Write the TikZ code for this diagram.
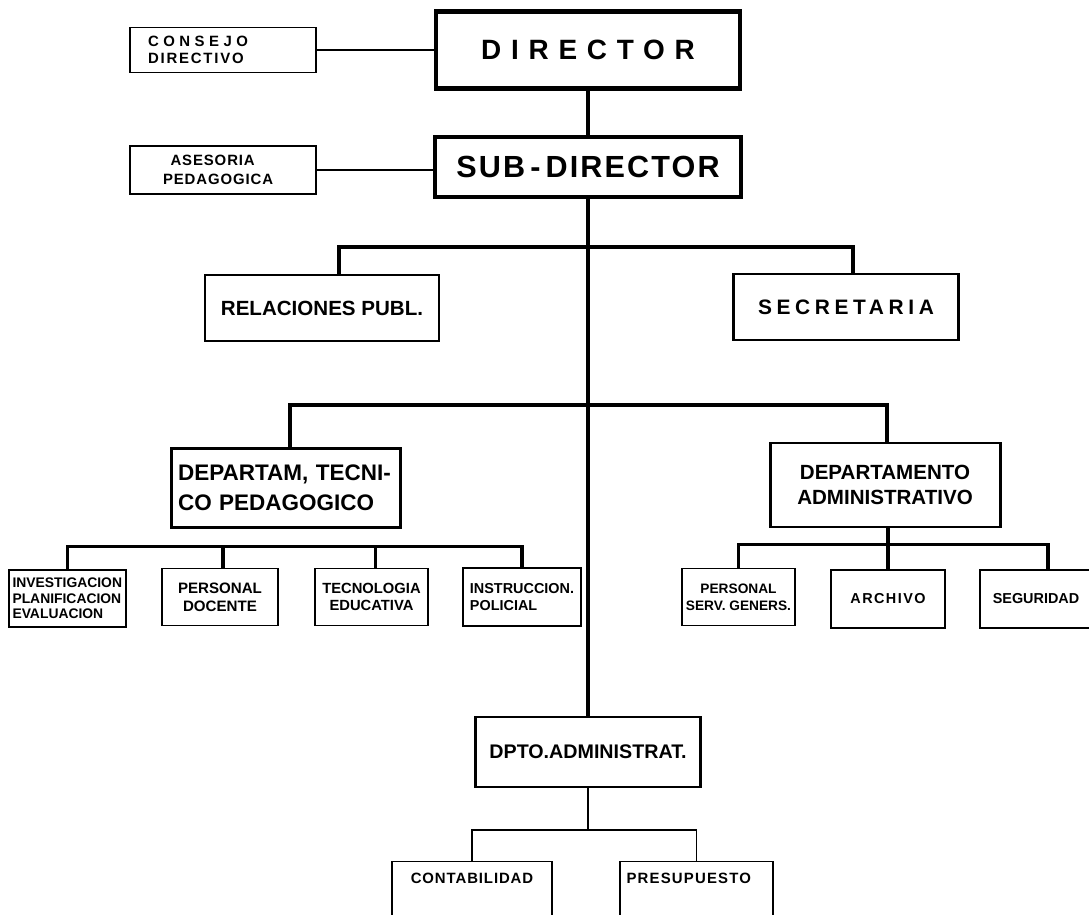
\documentclass[tikz,border=0pt]{standalone}
\usepackage{fontspec}
\setmainfont{Liberation Sans}
\usetikzlibrary{calc}

\begin{document}
\begin{tikzpicture}[x=0.02cm,y=-0.02cm,
  wh/.style 2 args = {minimum width=#1*0.02cm, minimum height=#2*0.02cm},
  main/.style = {draw, line width=1.7pt, inner sep=1pt, font=\bfseries\fontsize{11.7}{14}\selectfont},
  chief/.style = {main, line width=2.8pt},
  unit/.style = {draw, line width=0.85pt, inner sep=1pt, font=\bfseries\fontsize{8.2}{9.6}\selectfont},
  link/.style = {line width=1.8pt},
  trunk/.style = {line width=2.6pt},
  thinlink/.style = {line width=0.85pt}]
\useasboundingbox (0,0) rectangle (1089,915);

% top
\node[chief, wh={304}{77}, font={\bfseries\fontsize{15.9}{18}\selectfont\addfontfeature{LetterSpace=35}}] (director) at (588,50) {DIRECTOR};
\node[main, line width=2pt, wh={306}{60}, font={\bfseries\fontsize{17.4}{20}\selectfont\addfontfeature{LetterSpace=7}}] (sub) at (588,167) {SUB\,-\,DIRECTOR};
\node[unit, wh={186}{45}, text width=3cm, align=left, font={\bfseries\fontsize{8.5}{9.5}\selectfont}] (consejo) at (223,50)
  {{\addfontfeature{LetterSpace=30}CONSEJO}\\{\addfontfeature{LetterSpace=12}DIRECTIVO}};
\node[unit, wh={186}{48}, text width=2.4cm, align=left, font={\bfseries\fontsize{8.5}{10.5}\selectfont\addfontfeature{LetterSpace=6}}] (asesoria) at (223,170)
  {\hspace*{0.15cm}ASESORIA\\PEDAGOGICA};

% second level
\node[main, wh={234}{66}] (relaciones) at (322,308) {RELACIONES PUBL.};
\node[main, wh={225}{66}, font={\bfseries\fontsize{11.9}{14}\selectfont\addfontfeature{LetterSpace=22}}] (secretaria) at (846,307) {SECRETARIA};
\node[main, wh={229}{79}, text width=4.32cm, align=left, font={\bfseries\fontsize{12.8}{17}\selectfont}] (tecnico) at (286,488)
  {DEPARTAM, TECNI-\\CO PEDAGOGICO};
\node[main, wh={230}{84}, align=center] (admin) at (885,485) {DEPARTAMENTO\\ADMINISTRATIVO};
\node[main, wh={225}{70}, font={\bfseries\fontsize{11.2}{14}\selectfont}] (dpto) at (588,752) {DPTO.ADMINISTRAT.};

% third level
\node[unit, wh={117}{57}, text width=2.2cm, align=left, font={\bfseries\fontsize{7.9}{8.8}\selectfont}] (investigacion) at (67.5,598.5)
  {INVESTIGACION\\PLANIFICACION\\EVALUACION};
\node[unit, wh={116}{57}, align=center, font={\bfseries\fontsize{8.6}{10.2}\selectfont}] (docente) at (220,597) {PERSONAL\\DOCENTE};
\node[unit, wh={113}{57}, align=center, font={\bfseries\fontsize{8.4}{10}\selectfont}] (tecnologia) at (371.5,597) {TECNOLOGIA\\EDUCATIVA};
\node[unit, wh={118}{58}, align=left] (instruccion) at (522,597) {INSTRUCCION.\\POLICIAL};
\node[unit, wh={113}{57}, align=center, font={\bfseries\fontsize{7.8}{9.6}\selectfont}] (servgen) at (738.5,597) {PERSONAL\\SERV. GENERS.};
\node[unit, wh={114}{58}, font={\bfseries\fontsize{8.2}{9.6}\selectfont\addfontfeature{LetterSpace=10}}] (archivo) at (888,599) {ARCHIVO};
\node[unit, wh={112}{58}] (seguridad) at (1036,599) {SEGURIDAD};

% bottom
\node[unit, anchor=north, minimum width=160*0.02cm, inner ysep=0pt, text height=0.44cm, text depth=0.76cm,
  font={\bfseries\fontsize{8.5}{10}\selectfont\addfontfeature{LetterSpace=6}}] (contab) at (472,861) {CONTABILIDAD};
\node[unit, anchor=north, minimum width=153*0.02cm, inner ysep=0pt, text height=0.44cm, text depth=0.76cm,
  text width=2.8cm, align=left, font={\bfseries\fontsize{8.5}{10}\selectfont\addfontfeature{LetterSpace=8}}] (presu) at (696.5,861) {PRESUPUESTO};

\coordinate (bus1) at (588,247);
\coordinate (bus2) at (588,405);

\draw[thinlink] (consejo.east) -- (director.west |- consejo.east);
\draw[thinlink] (asesoria.east) -- (sub.west |- asesoria.east);
\draw[trunk] (director) -- (sub);
\draw[trunk] (sub) -- (dpto);
\draw[link] ($(relaciones.north)+(17,0)$) |- (bus1) -| ($(secretaria.north)+(7,0)$);
\draw[link] ($(tecnico.north)+(4,0)$) |- (bus2) -| ($(admin.north)+(2,0)$);
\draw[link] (investigacion.north) -- ++(0,-23) -| (instruccion.north);
\draw[link] ($(docente.north)+(3,0)$) -- ++(0,-23);
\draw[link] ($(tecnologia.north)+(4,0)$) -- ++(0,-23);
\draw[link] (servgen.north) -- ++(0,-23) -| ($(seguridad.north)+(12,0)$);
\draw[link] (admin.south -| archivo.north) -- (archivo.north);
\draw[thinlink] (dpto.south) -- ++(0,43);
\draw[thinlink] (contab.north) -- ++(0,-31) -| (presu.north);
\end{tikzpicture}
\end{document}
